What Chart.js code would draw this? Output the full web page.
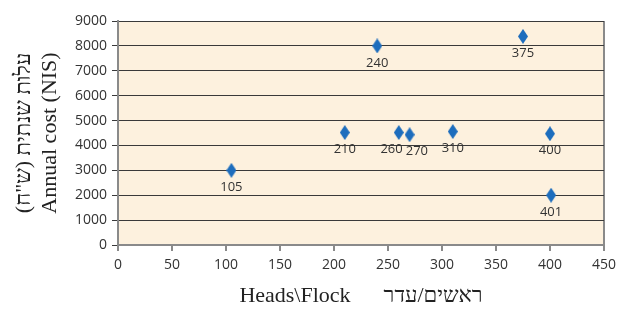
<!DOCTYPE html>
<html>
<head>
<meta charset="utf-8">
<script src="https://cdn.jsdelivr.net/npm/chart.js@4"></script>
<style>
  body { margin: 0; background: #fff; }
  #wrap { width: 618px; height: 309px; position: relative; }
</style>
</head>
<body>
<div id="wrap"><canvas id="costChart"></canvas></div>
<script>
// heads per flock and yearly cost per flock (NIS)
const heads = [105, 210, 240, 260, 270, 310, 375, 400, 401];
const annualCost = [3000, 4520, 8000, 4520, 4430, 4560, 8380, 4470, 2000];
const pointLabels = ["105", "210", "240", "260", "270", "310", "375", "400", "401"];
const xTicks = [0, 50, 100, 150, 200, 250, 300, 350, 400, 450];
const yTicks = [0, 1000, 2000, 3000, 4000, 5000, 6000, 7000, 8000, 9000];

const yTitle = ["עלות שנתית (ש\"ח)\u200F", "Annual cost (NIS)"];
const xTitle = "Heads\\Flock      ראשים/עדר";

const plotBg = "#FDF1DE";
const markerColor = "#1D6DBD";

// tall diamond marker
function makeDiamond(w, h, color) {
    const c = document.createElement("canvas");
    c.width = w;
    c.height = h;
    const g = c.getContext("2d");
    g.fillStyle = color;
    g.beginPath();
    g.moveTo(w / 2, 0);
    g.lineTo(w, h / 2);
    g.lineTo(w / 2, h);
    g.lineTo(0, h / 2);
    g.closePath();
    g.fill();
    return c;
}

const plotBackground = {
    id: "plotBackground",
    beforeDraw(chart) {
        const { ctx, chartArea } = chart;
        ctx.save();
        ctx.fillStyle = plotBg;
        ctx.fillRect(chartArea.left, chartArea.top, chartArea.right - chartArea.left, chartArea.bottom - chartArea.top);
        ctx.restore();
    }
};

// value labels under each marker, nudged apart when they would collide
const pointLabelPlugin = {
    id: "pointLabelPlugin",
    afterDatasetsDraw(chart) {
        const ctx = chart.ctx;
        const meta = chart.getDatasetMeta(0);
        ctx.save();
        ctx.font = "13px 'Open Sans'";
        ctx.fillStyle = "#333";
        ctx.textAlign = "center";
        ctx.textBaseline = "middle";
        const items = meta.data.map(function (pt, i) {
            return { text: pointLabels[i], x: pt.x, y: pt.y + 17, w: ctx.measureText(pointLabels[i]).width };
        });
        items.sort((a, b) => a.x - b.x);
        for (let i = 1; i < items.length; i++) {
            const a = items[i - 1], b = items[i];
            if (Math.abs(a.y - b.y) > 12) continue;
            const need = (a.w + b.w) / 2 + 3;
            const gap = b.x - a.x;
            if (gap < need) {
                const shift = (need - gap) / 2;
                a.x -= shift;
                b.x += shift;
            }
        }
        items.forEach(it => ctx.fillText(it.text, it.x, it.y));
        ctx.restore();
    }
};

const chartData = {
    datasets: [{
        data: heads.map((h, i) => ({ x: h, y: annualCost[i] })),
        pointStyle: makeDiamond(10, 15, markerColor),
        pointRadius: 7,
        showLine: false
    }]
};

const chartOptions = {
    responsive: true,
    maintainAspectRatio: false,
    animation: false,
    layout: { padding: { top: 21, right: 14, left: 0, bottom: 0 } },
    plugins: {
        legend: { display: false },
        tooltip: { enabled: false }
    },
    scales: {
        x: {
            type: "linear",
            min: 0,
            max: 450,
            afterBuildTicks: function (scale) {
                scale.ticks = xTicks.map(v => ({ value: v }));
            },
            afterFit: function (scale) {
                scale.height = 64;
                scale.paddingLeft = 0;
                scale.paddingRight = 0;
            },
            border: { color: "#8a8a8a", width: 2 },
            grid: {
                color: ctx => (ctx.tick && ctx.tick.value === 450) ? "#8a8a8a" : "rgba(0,0,0,0)",
                lineWidth: 2,
                tickColor: "#8a8a8a",
                tickLength: 6
            },
            ticks: {
                color: "#333",
                font: { family: "'Open Sans'", size: 14 },
                padding: 6,
                maxRotation: 0,
                callback: v => String(v)
            },
            title: {
                display: true,
                text: xTitle,
                color: "#222",
                font: { family: "'Liberation Serif'", size: 22 },
                padding: { top: 0, bottom: 0 }
            }
        },
        y: {
            type: "linear",
            min: 0,
            max: 9000,
            afterBuildTicks: function (scale) {
                scale.ticks = yTicks.map(v => ({ value: v }));
            },
            afterFit: function (scale) {
                scale.width = 118;
                scale.paddingTop = 0;
                scale.paddingBottom = 0;
            },
            border: { color: "#8a8a8a", width: 2 },
            grid: {
                color: "#3a3a3a",
                lineWidth: 1,
                tickColor: "#3a3a3a",
                tickLength: 6
            },
            ticks: {
                color: "#333",
                font: { family: "'Open Sans'", size: 14 },
                padding: 5,
                callback: v => String(v)
            },
            title: {
                display: true,
                text: yTitle,
                color: "#222",
                font: { family: "'Liberation Serif'", size: 22, lineHeight: 1.2 },
                padding: { top: 11, bottom: 0 }
            }
        }
    }
};

const ctx = document.getElementById("costChart").getContext("2d");
const chartObject = new Chart(ctx, {
    type: "scatter",
    data: chartData,
    options: chartOptions,
    plugins: [plotBackground, pointLabelPlugin]
});
</script>
</body>
</html>
